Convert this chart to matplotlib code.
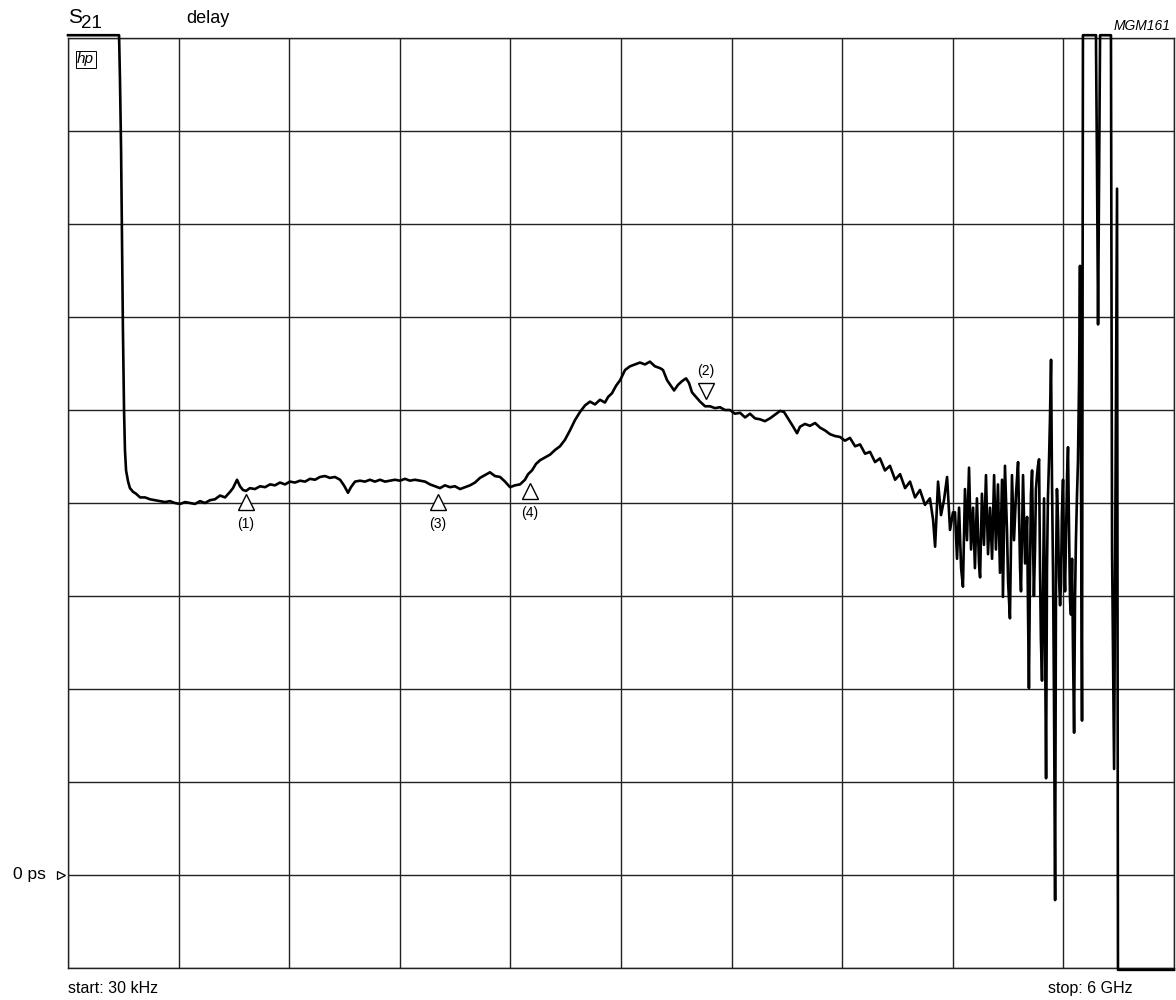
import matplotlib
matplotlib.use("Agg")
import matplotlib.pyplot as plt

plt.rcParams['font.family'] = ['Liberation Sans', 'DejaVu Sans']

# sweep: 30 kHz .. 6 GHz, linear; delay in graticule divisions above the 0 ps reference
# part 1: start of sweep up to the grey noisy descent
freq_main = [
    0.000, 0.277, 0.282, 0.288, 0.293, 0.298, 0.304, 0.309, 0.315, 0.326,
    0.336, 0.353, 0.369, 0.391, 0.418, 0.445, 0.472, 0.499, 0.526, 0.553,
    0.580, 0.608, 0.635, 0.662, 0.689, 0.716, 0.743, 0.770, 0.797, 0.825,
    0.852, 0.879, 0.895, 0.917, 0.933, 0.949, 0.966, 0.987, 1.014, 1.042,
    1.069, 1.096, 1.123, 1.150, 1.177, 1.204, 1.231, 1.259, 1.286, 1.313,
    1.340, 1.367, 1.394, 1.421, 1.448, 1.476, 1.497, 1.519, 1.535, 1.557,
    1.584, 1.611, 1.638, 1.665, 1.693, 1.720, 1.747, 1.774, 1.801, 1.828,
    1.855, 1.882, 1.910, 1.937, 1.964, 1.991, 2.018, 2.045, 2.072, 2.099,
    2.127, 2.154, 2.181, 2.208, 2.235, 2.262, 2.289, 2.316, 2.344, 2.371,
    2.398, 2.425, 2.452, 2.479, 2.496, 2.517, 2.539, 2.561, 2.588, 2.615,
    2.642, 2.669, 2.696, 2.723, 2.750, 2.778, 2.805, 2.832, 2.859, 2.886,
    2.913, 2.930, 2.951, 2.973, 2.995, 3.022, 3.049, 3.076, 3.103, 3.130,
    3.157, 3.184, 3.212, 3.228, 3.250, 3.271, 3.288, 3.309, 3.331, 3.353,
    3.369, 3.385, 3.407, 3.429, 3.456, 3.483, 3.510, 3.537, 3.564, 3.591,
    3.618, 3.646, 3.673, 3.700, 3.727, 3.754, 3.781, 3.808, 3.835, 3.863,
    3.884, 3.906, 3.928, 3.955, 3.971, 3.998, 4.025, 4.053, 4.080, 4.107,
    4.134, 4.161, 4.188, 4.215, 4.242, 4.270, 4.297, 4.324, 4.351, 4.378,
    4.405, 4.432, 4.459, 4.487, 4.514, 4.541, 4.568, 4.595, 4.622, 4.649,
    4.676, 4.693, 4.704, 4.720, 4.736, 4.752, 4.769, 4.785, 4.801,
]
delay_main = [
    9.03, 9.03, 8.55, 7.79, 6.83, 5.86, 5.00, 4.57, 4.35, 4.23,
    4.16, 4.12, 4.10, 4.06, 4.06, 4.04, 4.03, 4.02, 4.01, 4.02,
    4.00, 3.99, 4.01, 4.00, 3.99, 4.02, 4.00, 4.03, 4.04, 4.08,
    4.06, 4.12, 4.16, 4.25, 4.18, 4.14, 4.13, 4.16, 4.15, 4.18,
    4.17, 4.20, 4.19, 4.22, 4.20, 4.23, 4.22, 4.24, 4.23, 4.26,
    4.25, 4.28, 4.29, 4.27, 4.28, 4.25, 4.19, 4.11, 4.17, 4.23,
    4.24, 4.23, 4.25, 4.23, 4.25, 4.23, 4.24, 4.25, 4.24, 4.26,
    4.24, 4.25, 4.24, 4.23, 4.20, 4.18, 4.16, 4.19, 4.17, 4.18,
    4.15, 4.17, 4.19, 4.22, 4.27, 4.30, 4.33, 4.29, 4.28, 4.23,
    4.17, 4.19, 4.20, 4.25, 4.31, 4.35, 4.42, 4.46, 4.49, 4.52,
    4.57, 4.61, 4.68, 4.78, 4.89, 4.98, 5.05, 5.09, 5.06, 5.11,
    5.08, 5.14, 5.18, 5.26, 5.32, 5.43, 5.47, 5.49, 5.51, 5.49,
    5.52, 5.47, 5.45, 5.43, 5.32, 5.26, 5.21, 5.27, 5.31, 5.34,
    5.29, 5.19, 5.14, 5.09, 5.04, 5.04, 5.02, 5.03, 5.00, 5.00,
    4.96, 4.97, 4.92, 4.96, 4.91, 4.90, 4.88, 4.91, 4.95, 4.99,
    4.98, 4.91, 4.84, 4.75, 4.82, 4.85, 4.83, 4.86, 4.81, 4.78,
    4.74, 4.72, 4.71, 4.67, 4.70, 4.61, 4.63, 4.53, 4.55, 4.44,
    4.48, 4.35, 4.40, 4.25, 4.31, 4.16, 4.23, 4.06, 4.14, 3.98,
    4.05, 3.82, 3.53, 4.23, 3.87, 4.03, 4.28, 3.71, 3.90,
]

# part 2: noise above ~4.8 GHz
freq_noise = [
    4.812, 4.823, 4.834, 4.845, 4.855, 4.866, 4.877, 4.888, 4.899, 4.910,
    4.920, 4.931, 4.942, 4.948, 4.958, 4.969, 4.980, 4.991, 5.002, 5.013,
    5.024, 5.034, 5.045, 5.056, 5.067, 5.072, 5.083, 5.094, 5.100, 5.110,
    5.121, 5.132, 5.143, 5.154, 5.165, 5.170, 5.181, 5.192, 5.203, 5.208,
    5.213, 5.219, 5.224, 5.230, 5.235, 5.240,
    5.246, 5.251, 5.257, 5.262, 5.268, 5.273, 5.278, 5.284, 5.289, 5.295,
    5.300, 5.306, 5.311, 5.316, 5.322, 5.327, 5.333, 5.338, 5.344, 5.349,
    5.355, 5.360, 5.365, 5.371, 5.376, 5.382, 5.387, 5.392, 5.398, 5.403,
    5.409, 5.414, 5.420, 5.425, 5.430, 5.436, 5.441, 5.447, 5.452, 5.458,
    5.463, 5.468, 5.474, 5.479, 5.485, 5.490, 5.496, 5.501,
]
delay_noise = [
    3.90, 3.40, 3.95, 3.30, 3.10, 4.15, 3.60, 4.38, 3.50, 3.95,
    3.30, 4.05, 3.35, 3.20, 4.10, 3.55, 4.30, 3.45, 3.95, 3.40,
    4.30, 3.50, 4.20, 3.25, 4.25, 2.99, 4.40, 3.70, 3.15, 2.76,
    4.30, 3.60, 4.10, 4.44, 3.30, 3.05, 4.30, 3.35, 3.85, 2.85,
    2.01, 3.30, 4.10, 4.35, 3.60, 3.00,
    3.50, 4.15, 4.30, 4.40, 4.47, 3.30, 2.53, 2.09, 2.96, 4.05,
    2.74, 1.04, 3.30, 4.05, 4.46, 4.89, 5.54, 4.25, 3.20, 1.88,
    -0.27, 3.30, 4.15, 3.80, 3.20, 2.90, 3.15, 3.90, 4.25, 3.50,
    3.05, 3.60, 4.30, 4.60, 3.80, 2.95, 2.80, 3.40, 2.42, 1.53,
    2.96, 3.60, 4.10, 4.45, 5.32, 6.55, 4.03, 1.66,
]

# part 3: trace runs off-screen (clipped at graticule edges)
freq_tail = [5.506, 5.577, 5.577, 5.582, 5.588, 5.599, 5.658, 5.664, 5.675,
             5.691, 5.696, 6.000]
delay_tail = [9.03, 9.03, 8.90, 7.69, 5.92, 9.03, 9.03, 3.48, 1.14,
              7.38, -1.02, -1.02]

freq_ghz = freq_main + freq_noise + freq_tail
delay_div = delay_main + delay_noise + delay_tail

marker_labels = ['(1)', '(3)', '(4)', '(2)']
marker_freq = [0.966, 2.007, 2.506, 3.461]
marker_delay = [4.01, 4.01, 4.13, 5.20]
marker_up = [True, True, True, False]

fig = plt.figure(figsize=(11.76, 10), dpi=100)
ax = fig.add_axes([68 / 1176, 32 / 1000, 1106 / 1176, 930 / 1000])

ax.set_xlim(0, 6)
ax.set_ylim(-1, 9)
ax.set_xticks([0.6 * i for i in range(11)])
ax.set_yticks(list(range(-1, 10)))
ax.tick_params(length=0, labelbottom=False, labelleft=False)
ax.grid(True, color='#222222', lw=1.0)
for s in ax.spines.values():
    s.set_linewidth(1.0)
    s.set_color('#222222')

ax.plot(freq_ghz, delay_div, color='black', lw=1.9, clip_on=False, zorder=3)

# markers
for lab, f, d, up in zip(marker_labels, marker_freq, marker_delay, marker_up):
    ax.plot(f, d, marker='^' if up else 'v', ms=12, mfc='white', mec='black',
            mew=1.0, ls='none', zorder=4)
    dy = -16 if up else 15
    ax.annotate(lab, (f, d), xytext=(0, dy), textcoords='offset points',
                ha='center', va='center', fontsize=10)

# reference marker
ax.plot(-0.04, 0, marker='>', ms=6, mfc='white', mec='black', mew=0.9,
        clip_on=False)
ax.text(-0.12, 0, '0 ps', ha='right', va='center', fontsize=12.5)

# hp logo
ax.text(0.05, 8.77, 'hp', style='italic', fontsize=11, ha='left', va='center',
        bbox=dict(boxstyle='square,pad=0.1', fc='white', ec='black', lw=0.7))

fig.text(68 / 1176, 1 - 23 / 1000, 'S', fontsize=15, ha='left', va='baseline')
fig.text(81 / 1176, 1 - 28 / 1000, '21', fontsize=13.5, ha='left', va='baseline')
fig.text(186 / 1176, 1 - 23 / 1000, 'delay', fontsize=13, ha='left', va='baseline')
fig.text(1171 / 1176, 1 - 30 / 1000, 'MGM161', fontsize=10, style='italic',
         ha='right', va='baseline')
fig.text(68 / 1176, 1 - 993 / 1000, 'start: 30 kHz', fontsize=11.5, ha='left',
         va='baseline')
fig.text(1133 / 1176, 1 - 993 / 1000, 'stop: 6 GHz', fontsize=11.5, ha='right',
         va='baseline')

fig.savefig('out.png', dpi=100)
